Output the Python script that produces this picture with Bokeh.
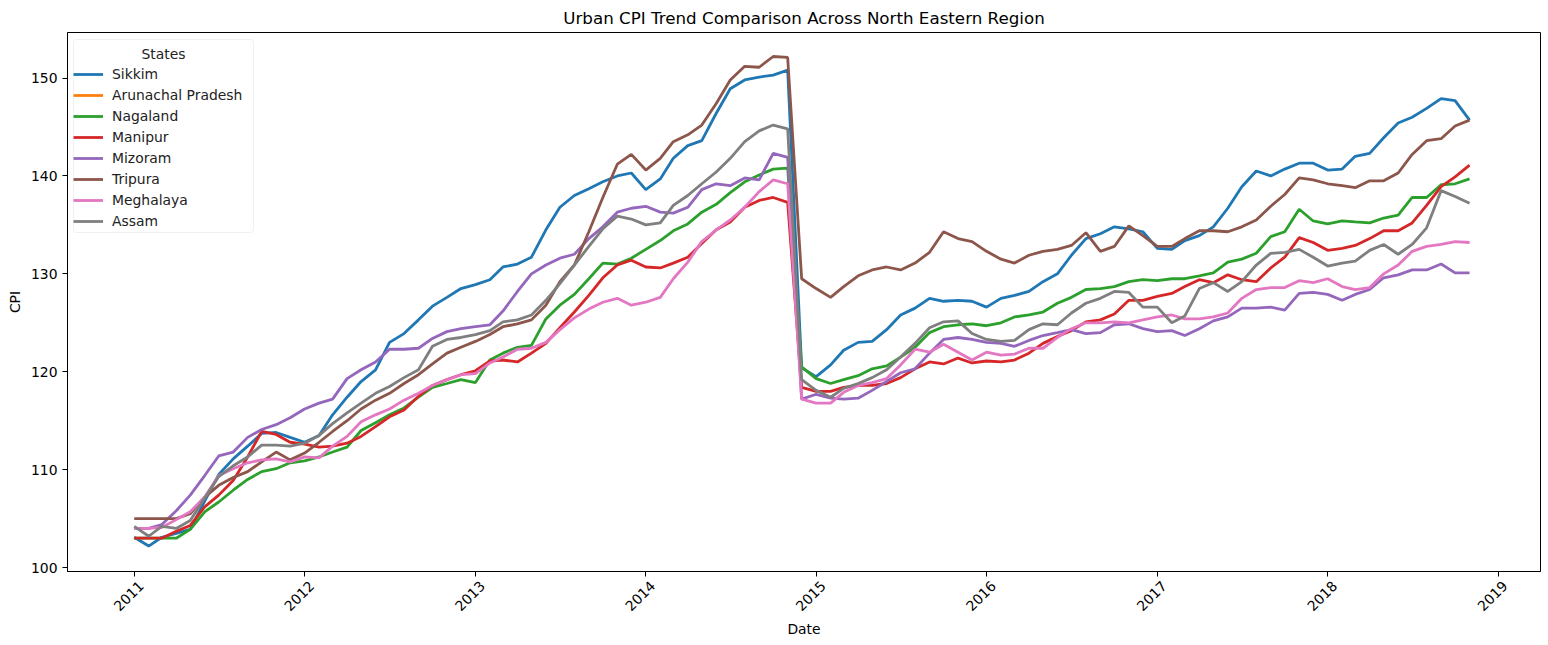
import math
import pandas as pd
from bokeh.plotting import figure
from bokeh.models import (ColumnDataSource, Legend, LegendItem, FixedTicker,
                          Range1d, Label, BoxAnnotation, DatetimeTickFormatter)
from bokeh.embed import file_html
from bokeh.resources import INLINE

dates = pd.date_range("2011-01-01", periods=95, freq="MS")

sikkim = [103.1, 102.2, 103.1, 103.5, 103.9, 106.8, 109.5, 111.1, 112.4, 113.7,
          113.8, 113.3, 112.8, 113.5, 115.6, 117.4, 119.0, 120.2, 123.0, 123.9,
          125.3, 126.7, 127.6, 128.5, 128.9, 129.4, 130.7, 131.0, 131.7, 134.5,
          136.8, 138.0, 138.7, 139.4, 140.0, 140.3, 138.6, 139.7, 141.8, 143.1,
          143.6, 146.4, 148.9, 149.8, 150.1, 150.3, 150.8, 120.4, 119.5, 120.7,
          122.2, 123.0, 123.1, 124.3, 125.8, 126.5, 127.5, 127.2, 127.3, 127.2,
          126.6, 127.5, 127.8, 128.2, 129.2, 130.0, 131.9, 133.6, 134.1, 134.8,
          134.6, 134.3, 132.6, 132.5, 133.4, 133.9, 134.8, 136.7, 138.9, 140.5,
          140.0, 140.7, 141.3, 141.3, 140.6, 140.7, 142.0, 142.3, 143.9, 145.4,
          146.0, 146.9, 147.9, 147.7, 145.7]
# no readings of Arunachal Pradesh are visible in the chart (legend entry only)
arunachal = [float("nan")] * len(dates)
nagaland = [103.0, 103.0, 103.0, 103.0, 103.9, 105.7, 106.7, 107.9, 109.0, 109.8,
            110.1, 110.7, 110.9, 111.3, 111.8, 112.3, 114.0, 114.8, 115.6, 116.3,
            117.4, 118.4, 118.8, 119.2, 118.9, 121.2, 121.9, 122.5, 122.7, 125.4,
            126.8, 127.9, 129.5, 131.1, 131.0, 131.6, 132.5, 133.4, 134.4, 135.1,
            136.3, 137.1, 138.3, 139.4, 140.1, 140.7, 140.8, 120.5, 119.3, 118.8,
            119.2, 119.6, 120.3, 120.6, 121.5, 122.5, 124.0, 124.6, 124.8, 124.9,
            124.7, 125.0, 125.6, 125.8, 126.1, 127.0, 127.6, 128.4, 128.5, 128.7,
            129.2, 129.4, 129.3, 129.5, 129.5, 129.8, 130.1, 131.2, 131.5, 132.1,
            133.8, 134.3, 136.6, 135.4, 135.1, 135.4, 135.3, 135.2, 135.7, 136.0,
            137.8, 137.8, 139.1, 139.2, 139.7]
manipur = [103.0, 103.0, 103.0, 103.7, 104.3, 106.2, 107.4, 108.9, 111.3, 113.9,
           113.6, 112.8, 112.6, 112.3, 112.4, 112.7, 113.4, 114.4, 115.4, 116.1,
           117.5, 118.6, 119.2, 119.7, 120.1, 121.1, 121.2, 121.0, 121.9, 122.9,
           124.5, 126.1, 127.8, 129.6, 130.9, 131.4, 130.7, 130.6, 131.1, 131.7,
           133.1, 134.5, 135.3, 136.8, 137.5, 137.8, 137.3, 118.4, 118.0, 118.0,
           118.4, 118.6, 118.6, 118.8, 119.4, 120.3, 121.0, 120.8, 121.4, 120.9,
           121.1, 121.0, 121.2, 121.9, 122.9, 123.6, 124.2, 125.1, 125.3, 125.9,
           127.3, 127.3, 127.7, 128.0, 128.7, 129.4, 129.1, 129.9, 129.4, 129.2,
           130.6, 131.7, 133.7, 133.2, 132.4, 132.6, 132.9, 133.6, 134.4, 134.4,
           135.2, 137.0, 138.9, 139.9, 141.1]
mizoram = [104.0, 104.0, 104.4, 105.8, 107.4, 109.4, 111.4, 111.8, 113.3, 114.1,
           114.6, 115.3, 116.2, 116.8, 117.2, 119.3, 120.2, 121.0, 122.3, 122.3,
           122.4, 123.4, 124.1, 124.4, 124.6, 124.8, 126.2, 128.2, 130.0, 130.9,
           131.6, 132.0, 133.6, 134.8, 136.3, 136.7, 136.9, 136.3, 136.2, 136.8,
           138.6, 139.2, 139.0, 139.8, 139.6, 142.3, 141.9, 117.2, 117.7, 117.3,
           117.2, 117.3, 118.1, 119.0, 119.9, 120.3, 121.9, 123.3, 123.5, 123.3,
           123.0, 122.9, 122.6, 123.2, 123.7, 124.0, 124.3, 123.9, 124.0, 124.8,
           124.9, 124.4, 124.1, 124.2, 123.7, 124.4, 125.2, 125.6, 126.5, 126.5,
           126.6, 126.3, 128.0, 128.1, 127.9, 127.3, 127.9, 128.4, 129.6, 129.9,
           130.4, 130.4, 131.0, 130.1, 130.1]
tripura = [105.0, 105.0, 105.0, 105.0, 105.5, 107.2, 108.4, 109.2, 109.8, 110.8,
           111.8, 111.0, 111.7, 112.8, 113.9, 115.0, 116.2, 117.1, 117.8, 118.8,
           119.7, 120.8, 121.9, 122.5, 123.1, 123.8, 124.6, 124.9, 125.3, 126.8,
           129.2, 130.9, 134.3, 137.8, 141.2, 142.2, 140.6, 141.8, 143.5, 144.2,
           145.2, 147.4, 149.8, 151.2, 151.1, 152.2, 152.1, 129.5, 128.5, 127.6,
           128.7, 129.8, 130.4, 130.7, 130.4, 131.1, 132.2, 134.3, 133.6, 133.3,
           132.3, 131.5, 131.1, 131.9, 132.3, 132.5, 132.9, 134.2, 132.3, 132.8,
           134.9, 133.9, 132.8, 132.8, 133.6, 134.4, 134.4, 134.3, 134.8, 135.5,
           136.9, 138.1, 139.8, 139.6, 139.2, 139.0, 138.8, 139.5, 139.5, 140.3,
           142.2, 143.6, 143.8, 145.1, 145.7]
meghalaya = [104.0, 104.0, 104.1, 104.9, 105.7, 107.2, 109.4, 110.1, 110.7, 111.0,
             111.1, 110.8, 111.3, 111.2, 112.4, 113.4, 114.9, 115.6, 116.2, 117.1,
             117.8, 118.6, 119.2, 119.7, 119.8, 120.9, 121.5, 122.3, 122.4, 123.0,
             124.3, 125.5, 126.4, 127.1, 127.5, 126.8, 127.1, 127.6, 129.5, 131.2,
             133.3, 134.5, 135.5, 136.8, 138.4, 139.6, 139.2, 117.2, 116.8, 116.8,
             117.9, 118.6, 118.9, 119.3, 120.7, 122.3, 122.0, 122.8, 122.0, 121.2,
             122.0, 121.7, 121.8, 122.4, 122.4, 123.5, 124.4, 125.0, 125.0, 125.1,
             125.0, 125.3, 125.6, 125.8, 125.4, 125.4, 125.6, 126.0, 127.5, 128.4,
             128.6, 128.6, 129.3, 129.1, 129.5, 128.7, 128.4, 128.6, 130.0, 130.9,
             132.3, 132.8, 133.0, 133.3, 133.2]
assam = [104.2, 103.2, 104.2, 104.0, 104.8, 107.1, 109.3, 110.4, 111.3, 112.5,
         112.5, 112.4, 112.7, 113.5, 114.7, 115.8, 116.8, 117.8, 118.5, 119.4,
         120.2, 122.6, 123.3, 123.5, 123.8, 124.2, 125.1, 125.3, 125.8, 127.3,
         129.0, 130.9, 132.8, 134.6, 135.9, 135.6, 135.0, 135.2, 137.0, 138.0,
         139.2, 140.4, 141.8, 143.5, 144.6, 145.2, 144.8, 119.2, 118.1, 117.4,
         118.3, 118.8, 119.4, 120.2, 121.5, 122.9, 124.5, 125.1, 125.2, 123.9,
         123.3, 123.1, 123.2, 124.3, 124.9, 124.8, 126.0, 127.0, 127.5, 128.2,
         128.1, 126.6, 126.6, 125.0, 125.7, 128.5, 129.1, 128.2, 129.2, 130.9,
         132.1, 132.2, 132.5, 131.7, 130.8, 131.1, 131.3, 132.4, 133.0, 132.0,
         133.0, 134.7, 138.5, 137.9, 137.2]

states = ["Sikkim", "Arunachal Pradesh", "Nagaland", "Manipur", "Mizoram",
          "Tripura", "Meghalaya", "Assam"]
series = [sikkim, arunachal, nagaland, manipur, mizoram, tripura, meghalaya, assam]
colors = ["#1f77b4", "#ff7f0e", "#2ca02c", "#d62728", "#9467bd", "#8c564b",
          "#e377c2", "#7f7f7f"]
years = list(range(2011, 2020))
y_ticks = [100, 110, 120, 130, 140, 150]

FONT = "DejaVu Sans"
FS = "13.9px"

p = figure(width=1546, height=640, x_axis_type="datetime",
           output_backend="svg", toolbar_location=None,
           x_range=Range1d(pd.Timestamp("2010-08-11"), pd.Timestamp("2019-04-02")),
           y_range=Range1d(99.6, 154.65),
           min_border_left=67, min_border_right=6, min_border_top=32,
           min_border_bottom=69)

p.title.text = "Urban CPI Trend Comparison Across North Eastern Region"
p.title.align = "center"
p.title.text_font = FONT
p.title.text_font_size = "16.7px"
p.title.text_font_style = "normal"
p.title.text_color = "black"

p.xgrid.visible = False
p.ygrid.visible = False
p.outline_line_color = "black"
p.outline_line_width = 1

items = []
for name, vals, col in zip(states, series, colors):
    src = ColumnDataSource(dict(x=list(dates[:len(vals)]), y=vals))
    r = p.line("x", "y", source=src, line_color=col, line_width=2.8)
    items.append(LegendItem(label=name, renderers=[r]))

# year ticks: visible (minor) tick marks at Jan 1; labels placed a little to the
# right so that the rotated text is centred under its tick, as in the reference
year_dates = [pd.Timestamp(f"{y}-01-01") for y in years]
label_shift = pd.Timedelta(days=15)
p.xaxis.ticker = FixedTicker(ticks=[(d + label_shift).value / 1e6 for d in year_dates],
                             minor_ticks=[d.value / 1e6 for d in year_dates])
p.xaxis.formatter = DatetimeTickFormatter(years="%Y", months="%Y", days="%Y",
                                          hours="%Y", minutes="%Y", seconds="%Y",
                                          milliseconds="%Y", microseconds="%Y")
p.xaxis.major_label_orientation = math.pi / 4
p.yaxis.ticker = FixedTicker(ticks=y_ticks)
p.xaxis.axis_label = "Date"
p.yaxis.axis_label = "CPI"

for ax in (p.xaxis, p.yaxis):
    ax.axis_label_text_font = FONT
    ax.axis_label_text_font_size = FS
    ax.axis_label_text_font_style = "normal"
    ax.axis_label_text_color = "black"
    ax.major_label_text_font = FONT
    ax.major_label_text_font_size = FS
    ax.major_label_text_color = "black"
    ax.major_tick_in = 0
    ax.major_tick_out = 5
    ax.major_tick_line_color = "black"
    ax.axis_line_color = "black"

p.yaxis.minor_tick_line_color = None
p.xaxis.major_tick_line_color = None
p.xaxis.minor_tick_line_color = "black"
p.xaxis.minor_tick_in = 0
p.xaxis.minor_tick_out = 5
p.xaxis.major_label_standoff = 7
p.xaxis.axis_label_standoff = 2

# legend frame + centred title
box = BoxAnnotation(left=6, right=186, top=532, bottom=339,
                    left_units="screen", right_units="screen",
                    top_units="screen", bottom_units="screen",
                    fill_color="white", fill_alpha=0.8,
                    line_color="#cccccc", line_width=1, border_radius=3)
p.add_layout(box)

legend = Legend(items=items, location=(6, 341))
legend.label_text_font = FONT
legend.label_text_font_size = FS
legend.label_text_color = "#222222"
legend.label_standoff = 9
legend.glyph_width = 30
legend.glyph_height = 18
legend.label_height = 18
legend.spacing = 3
legend.padding = 4
legend.margin = 0
legend.border_line_color = None
legend.background_fill_color = None
legend.background_fill_alpha = 0
p.add_layout(legend)

legend_title = Label(x=96, y=518, x_units="screen", y_units="screen", text="States",
                     text_align="center", text_baseline="middle", text_font=FONT,
                     text_font_size=FS, text_color="#222222")
p.add_layout(legend_title)

open("out.html", "w").write(file_html(p, INLINE))
